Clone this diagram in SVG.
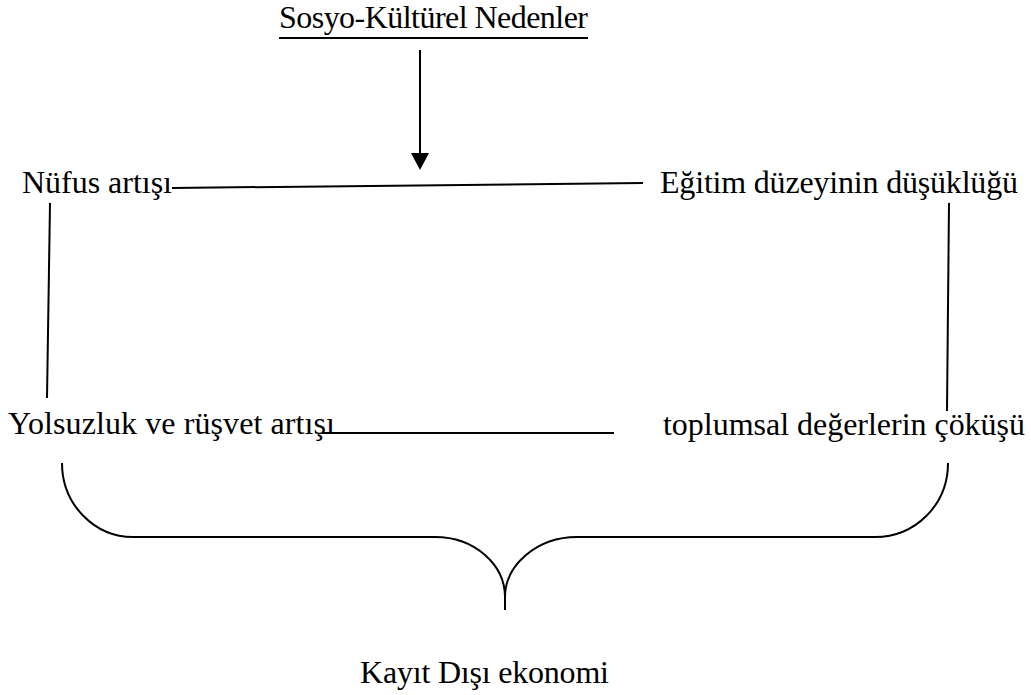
<svg xmlns="http://www.w3.org/2000/svg" width="1031" height="695" viewBox="0 0 1031 695">
<style>
text{font-family:"Liberation Serif","Times New Roman",serif;font-size:32px;fill:#000}
.ln{stroke:#000;stroke-width:2;fill:none}
</style>
<rect width="1031" height="695" fill="#fff"/>
<g id="title"><text x="279" y="28" textLength="309">Sosyo-Kültürel Nedenler</text><line class="ln" x1="279" y1="38" x2="588" y2="38"/></g>
<g id="nufus"><text x="22" y="193" textLength="150">Nüfus artışı</text></g>
<g id="egitim"><text x="660" y="193" textLength="358">Eğitim düzeyinin düşüklüğü</text></g>
<g id="yolsuzluk"><text x="8" y="434" textLength="327">Yolsuzluk ve rüşvet artışı</text></g>
<g id="toplumsal"><text x="663" y="435" textLength="362">toplumsal değerlerin çöküşü</text></g>
<g id="kayit"><text x="360" y="683" textLength="249">Kayıt Dışı ekonomi</text></g>
<g id="connectors">
<line class="ln" x1="420" y1="50" x2="420" y2="155"/>
<path d="M411,153 L429,153 L420,170 z" fill="#000"/>
<line class="ln" x1="172" y1="188" x2="643" y2="183"/>
<line class="ln" x1="50" y1="203" x2="47" y2="398"/>
<line class="ln" x1="949" y1="203" x2="947" y2="411"/>
<line class="ln" x1="322" y1="433" x2="614" y2="433"/>
<path class="ln" d="M62,463 C62,505 95,537 133,537 L435,537 C475,537 505,565 505,597 L505,610 M505,597 C505,565 537,537 577,537 L875,537 C915,537 948,505 948,463"/>
</g>
</svg>
